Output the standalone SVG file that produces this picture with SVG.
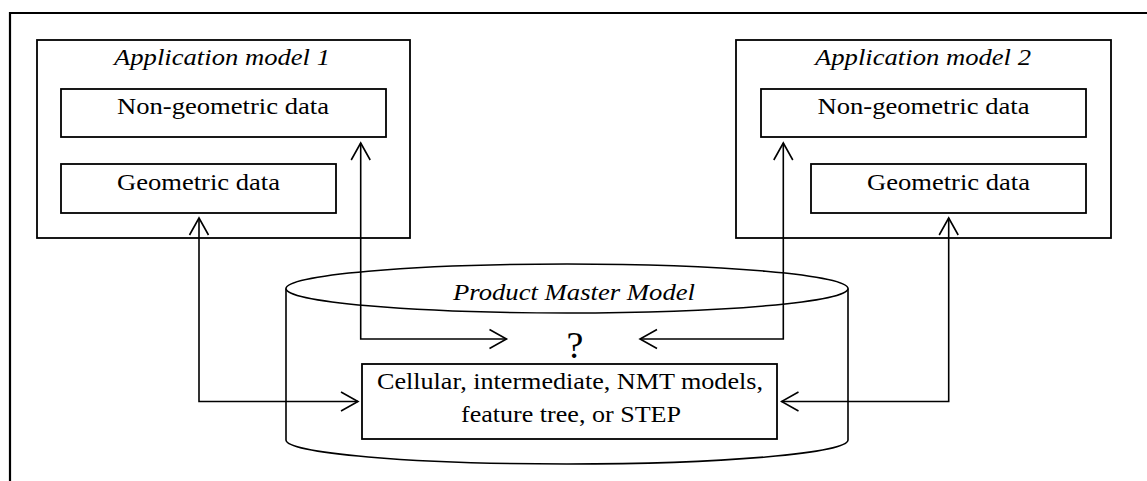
<svg xmlns="http://www.w3.org/2000/svg" width="1147" height="481" viewBox="0 0 1147 481">
  <style>
    .frame { fill: none; stroke: #000; stroke-width: 2.2; }
    .box { fill: #fff; stroke: #000; stroke-width: 1.8; }
    .cyl { fill: #fff; stroke: #000; stroke-width: 1.6; }
    .t { font-family: "Liberation Serif", "Times New Roman", serif; font-size: 24px; fill: #000; text-anchor: middle; }
    .it { font-style: italic; }
    .link { fill: none; stroke: #000; stroke-width: 1.6; }
  </style>
  <defs>
    <marker id="open" viewBox="0 0 20 22" refX="18" refY="11" markerWidth="20" markerHeight="22" markerUnits="userSpaceOnUse" orient="auto-start-reverse">
      <path d="M1,1.5 L18,11 L1,20.5" fill="none" stroke="#000" stroke-width="1.6"/>
    </marker>
  </defs>

  <rect width="1147" height="481" fill="#fff"/>

  <!-- page frame: top and left rule -->
  <path class="frame" d="M10,481 L10,13 L1147,13"/>

  <!-- Application model 1 -->
  <g id="app1">
    <rect class="box" x="37" y="40" width="373" height="198"/>
    <text class="t it" x="222" y="65" textLength="216" lengthAdjust="spacingAndGlyphs">Application model 1</text>
    <g id="app1-nongeo">
      <rect class="box" x="61" y="89" width="325" height="48"/>
      <text class="t" x="223" y="114" textLength="212" lengthAdjust="spacingAndGlyphs">Non-geometric data</text>
    </g>
    <g id="app1-geo">
      <rect class="box" x="61" y="164" width="275" height="49"/>
      <text class="t" x="198.5" y="190" textLength="163" lengthAdjust="spacingAndGlyphs">Geometric data</text>
    </g>
  </g>

  <!-- Application model 2 -->
  <g id="app2">
    <rect class="box" x="736" y="40" width="375" height="198"/>
    <text class="t it" x="923" y="65" textLength="216" lengthAdjust="spacingAndGlyphs">Application model 2</text>
    <g id="app2-nongeo">
      <rect class="box" x="761" y="89" width="325" height="48"/>
      <text class="t" x="923.5" y="114" textLength="212" lengthAdjust="spacingAndGlyphs">Non-geometric data</text>
    </g>
    <g id="app2-geo">
      <rect class="box" x="811" y="164" width="275" height="49"/>
      <text class="t" x="948.5" y="190" textLength="163" lengthAdjust="spacingAndGlyphs">Geometric data</text>
    </g>
  </g>

  <!-- Product Master Model store -->
  <g id="pmm">
    <path class="cyl" d="M286,288.5 L286,440 A281,24 0 0 0 848,440 L848,288.5"/>
    <ellipse class="cyl" cx="567" cy="288.5" rx="281" ry="24.5"/>
    <text class="t it" x="574" y="299.5" textLength="242" lengthAdjust="spacingAndGlyphs">Product Master Model</text>
    <text id="pmm-unknown" class="t" x="575" y="358" style="font-size:38px">?</text>
    <g id="pmm-repr">
      <rect class="box" x="362" y="364" width="415" height="75"/>
      <text class="t" x="570" y="388.5" textLength="386" lengthAdjust="spacingAndGlyphs">Cellular, intermediate, NMT models,</text>
      <text class="t" x="571" y="422" textLength="220" lengthAdjust="spacingAndGlyphs">feature tree, or STEP</text>
    </g>
  </g>

  <!-- connectors (double-headed) -->
  <g id="connectors">
    <path class="link" d="M199,218 L199,401.5 L358,401.5" marker-start="url(#open)" marker-end="url(#open)"/>
    <path class="link" d="M360.7,143 L360.7,339 L506.5,339" marker-start="url(#open)" marker-end="url(#open)"/>
    <path class="link" d="M783.3,143 L783.3,339 L640,339" marker-start="url(#open)" marker-end="url(#open)"/>
    <path class="link" d="M948.7,218 L948.7,401.5 L781.5,401.5" marker-start="url(#open)" marker-end="url(#open)"/>
  </g>
</svg>
